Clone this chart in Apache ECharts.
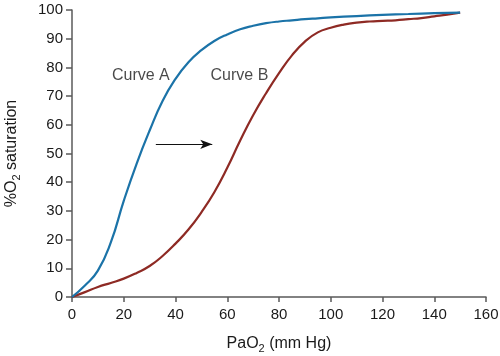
<!DOCTYPE html>
<html>
<head>
<meta charset="utf-8">
<script src="https://cdn.jsdelivr.net/npm/echarts@6/dist/echarts.min.js"></script>
<style>
html,body{margin:0;padding:0;background:#fff;}
#chart{width:500px;height:356px;}
</style>
</head>
<body>
<div id="chart"></div>
<script>
// Curve A
var xA = [0, 5, 10, 15, 20, 25, 30, 35, 40, 45, 50, 55, 60, 65, 70, 75, 80, 85, 90, 95, 100, 110, 120, 130, 140, 150];
var yA = [0, 4.0, 9.2, 19.0, 33.5, 46.5, 58, 68.3, 76, 81.8, 86, 89.2, 91.5, 93.3, 94.5, 95.4, 96, 96.4, 96.8, 97.1, 97.4, 97.9, 98.3, 98.6, 98.9, 99.1];
// Curve B
var xB = [0, 5, 10, 15, 20, 25, 30, 35, 40, 45, 50, 55, 60, 65, 70, 75, 80, 85, 90, 95, 100, 105, 110, 115, 120, 125, 130, 135, 140, 145, 150];
var yB = [0, 1.7, 3.5, 4.9, 6.4, 8.4, 10.8, 14.3, 18.6, 23.5, 29.5, 36.5, 45, 54.5, 63.3, 71, 78, 84.2, 89, 92.2, 93.8, 94.9, 95.6, 96, 96.2, 96.4, 96.8, 97.2, 97.8, 98.4, 99.1];
// Axis ticks
var xTicks = [0, 20, 40, 60, 80, 100, 120, 140, 160];
var yTicks = [0, 10, 20, 30, 40, 50, 60, 70, 80, 90, 100];
// Annotations
var curveLabels = ['Curve A', 'Curve B'];
var curveLabelPos = [[26.6, 77.3], [64.7, 77]];
var arrowStart = [32.4, 53.2];
var arrowEnd = [54.2, 53.2];

function pairs(xs, ys) { return xs.map(function (x, i) { return [x, ys[i]]; }); }

var chart = echarts.init(document.getElementById('chart'), null, {renderer: 'canvas'});
var font = 'Liberation Sans, Arial, Helvetica, sans-serif';
var axisColor = '#5a5a5a';
var textColor = '#1a1a1a';
chart.setOption({
  animation: false,
  backgroundColor: '#ffffff',
  grid: {left: 72, right: 14, top: 10, bottom: 59, containLabel: false, outerBoundsMode: 'none'},
  xAxis: {
    type: 'value', min: xTicks[0], max: xTicks[xTicks.length - 1], interval: 20,
    name: '{n|PaO}{s|2}{n| (mm Hg)}', nameLocation: 'middle', nameGap: 36,
    nameTextStyle: {rich: {n: {fontSize: 16, fontFamily: font, color: textColor}, s: {fontSize: 11, fontFamily: font, color: textColor, verticalAlign: 'bottom', padding: [10, 0, 0, 0]}}},
    axisLine: {show: true, lineStyle: {color: axisColor, width: 1.5}},
    axisTick: {show: true, length: 5, inside: false, lineStyle: {color: axisColor, width: 1.5}},
    axisLabel: {fontSize: 15, fontFamily: font, color: textColor, margin: 10},
    splitLine: {show: false}
  },
  yAxis: {
    type: 'value', min: yTicks[0], max: yTicks[yTicks.length - 1], interval: 10,
    name: '{n|%O}{s|2}{n| saturation}', nameLocation: 'middle', nameGap: 50,
    nameTextStyle: {rich: {n: {fontSize: 16, fontFamily: font, color: textColor}, s: {fontSize: 11, fontFamily: font, color: textColor, padding: [10, 0, 0, 0]}}},
    axisLine: {show: true, lineStyle: {color: axisColor, width: 1.5}},
    axisTick: {show: true, length: 6, inside: false, lineStyle: {color: axisColor, width: 1.5}},
    axisLabel: {fontSize: 15, fontFamily: font, color: textColor, margin: 9},
    splitLine: {show: false}
  },
  series: [
    {
      type: 'line', data: pairs(xA, yA), smooth: 0.5, showSymbol: false, symbol: 'none',
      lineStyle: {color: '#1b73a8', width: 2.2}, z: 3,
      markLine: {
        silent: true, symbol: ['none', 'arrow'], symbolSize: [7, 12],
        label: {show: false},
        lineStyle: {color: '#111', width: 1.2, type: 'solid'},
        data: [[{coord: arrowStart}, {coord: arrowEnd}]]
      }
    },
    {
      type: 'line', data: pairs(xB, yB), smooth: 0.5, showSymbol: false, symbol: 'none',
      lineStyle: {color: '#8e2a24', width: 2.2}, z: 2
    },
    {
      type: 'scatter', symbolSize: 0, silent: true,
      data: curveLabelPos.map(function (p, i) { return {value: p, name: curveLabels[i]}; }),
      label: {show: true, position: 'inside', formatter: '{b}', fontSize: 16, fontFamily: font, color: textColor}
    }
  ]
});
</script>
</body>
</html>
